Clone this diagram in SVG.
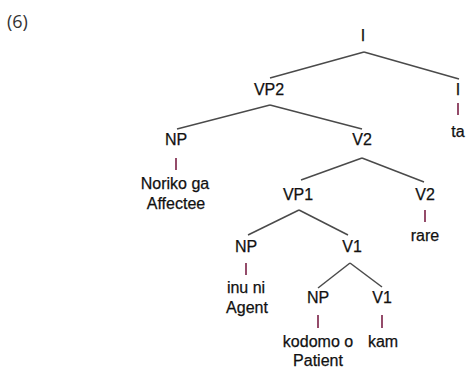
<svg xmlns="http://www.w3.org/2000/svg" width="466" height="368" viewBox="0 0 466 368">
<style>
text{font-family:"Liberation Sans",Arial,sans-serif;font-size:16px;fill:#111;stroke:#111;stroke-width:0.25;text-anchor:middle}
.num{font-family:"Open Sans","Noto Sans",sans-serif;font-size:18px;fill:#333;stroke:none;text-anchor:start}
.edge{stroke:#4a4a4a;stroke-width:1.5;fill:none}
.bar{stroke:#7a1f45;stroke-width:1.6}
</style>
<rect width="466" height="368" fill="#fff"/>
<text class="num" x="7" y="28">(6)</text>
<g id="connectors">
<line class="edge" x1="364" y1="52" x2="270" y2="78"/>
<line class="edge" x1="364" y1="52" x2="459" y2="79"/>
<line class="edge" x1="270" y1="105" x2="177" y2="129"/>
<line class="edge" x1="270" y1="105" x2="362" y2="129"/>
<line class="edge" x1="362" y1="158" x2="301" y2="180"/>
<line class="edge" x1="362" y1="158" x2="424" y2="182"/>
<line class="edge" x1="299" y1="210" x2="248" y2="235"/>
<line class="edge" x1="299" y1="210" x2="348" y2="235"/>
<line class="edge" x1="350" y1="263" x2="318" y2="288"/>
<line class="edge" x1="350" y1="263" x2="382" y2="287"/>
<line class="bar" x1="458" y1="103" x2="458" y2="115"/>
<line class="bar" x1="176" y1="158" x2="176" y2="170"/>
<line class="bar" x1="425" y1="210" x2="425" y2="222"/>
<line class="bar" x1="246" y1="263" x2="246" y2="275"/>
<line class="bar" x1="318" y1="315" x2="318" y2="328"/>
<line class="bar" x1="382" y1="315" x2="382" y2="328"/>
</g>
<g id="n-I"><text x="363" y="41">I</text></g>
<g id="n-VP2"><text x="269" y="95">VP2</text></g>
<g id="n-I2"><text x="458" y="95">I</text></g>
<g id="n-ta"><text x="458" y="137">ta</text></g>
<g id="n-NP1"><text x="176" y="145">NP</text></g>
<g id="n-Noriko"><text x="175" y="189">Noriko ga</text><text x="176" y="209">Affectee</text></g>
<g id="n-V2a"><text x="362" y="145">V2</text></g>
<g id="n-VP1"><text x="298" y="200">VP1</text></g>
<g id="n-V2b"><text x="425" y="200">V2</text></g>
<g id="n-rare"><text x="425" y="241">rare</text></g>
<g id="n-NP2"><text x="246" y="252">NP</text></g>
<g id="n-inu"><text x="246" y="293">inu ni</text><text x="247" y="313">Agent</text></g>
<g id="n-V1a"><text x="352" y="252">V1</text></g>
<g id="n-NP3"><text x="318" y="303">NP</text></g>
<g id="n-V1b"><text x="382" y="303">V1</text></g>
<g id="n-kodomo"><text x="318" y="347">kodomo o</text><text x="318" y="366">Patient</text></g>
<g id="n-kam"><text x="383" y="347">kam</text></g>
</svg>
